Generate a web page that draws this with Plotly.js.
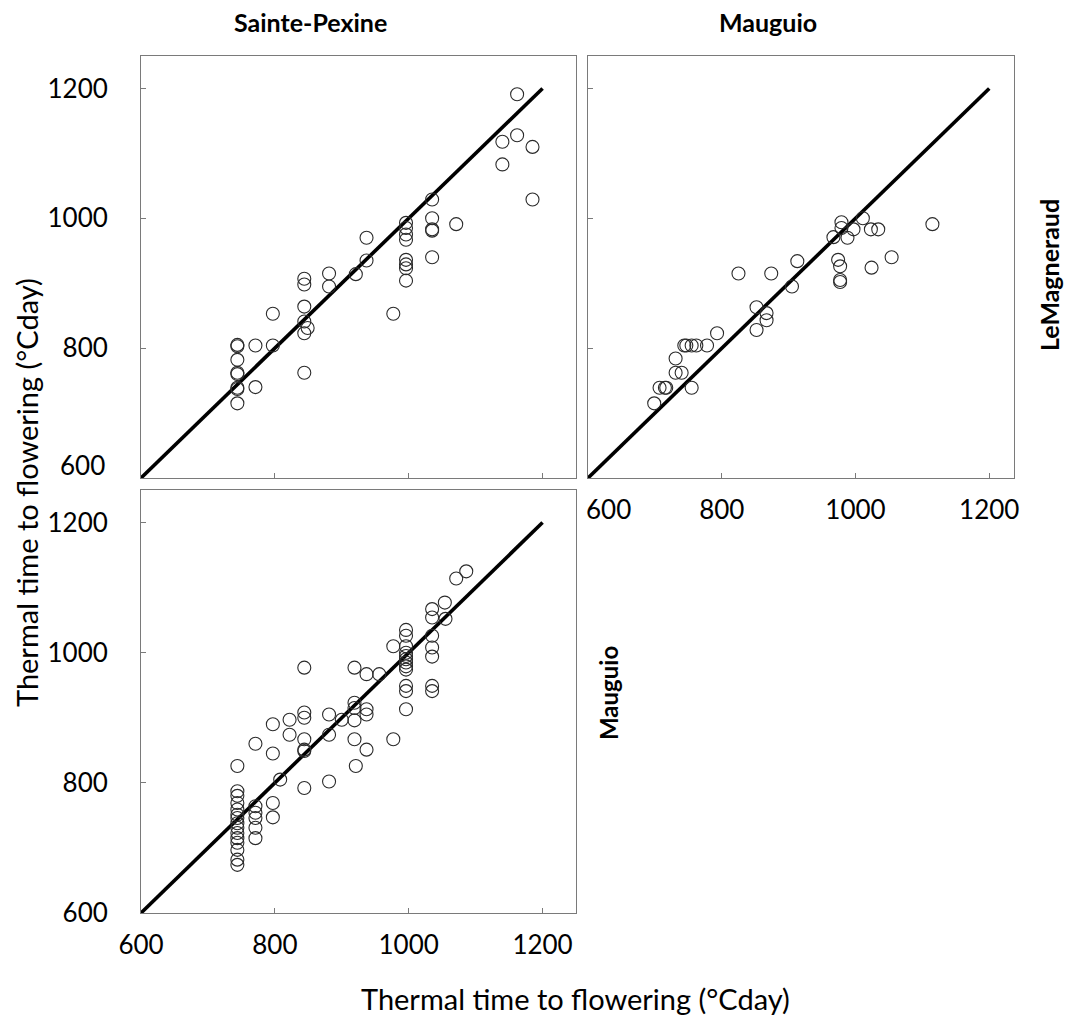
<!DOCTYPE html>
<html><head><meta charset="utf-8">
<script src="https://cdn.plot.ly/plotly-3.0.1.min.js"></script>
<style>body{margin:0;background:#fff}</style></head>
<body><div id="chart" style="width:1069px;height:1029px"></div>
<script>
// 1:1 reference line
const lineX = [600, 1200];
const lineY = [600, 1200];

// Panel: Sainte-Pexine (column) vs LeMagneraud (row)
const spX = [1162,1140,1162,1185,1140,1185,1035,1035,1035,1035,1035,1071,996,996,996,996,996,996,996,996,937,937,921,881,881,977,844,844,844,844,849,844,844,797,797,771,771,744,744,744,744,744,744,744,744];
const spY = [1191,1118,1128,1110,1083,1029,1029,1000,983,981,940,991,993,985,975,967,936,929,923,904,970,935,914,915,895,853,907,898,864,841,831,823,762,853,804,804,740,805,803,782,762,760,739,737,715];

// Panel: Mauguio (column) vs LeMagneraud (row)
const mgX = [1115,1011,979,979,997,1023,1034,967,988,974,977,977,977,1024,1054,913,905,874,825,852,867,867,852,793,778,762,755,747,744,731,731,740,755,707,715,717,699];
const mgY = [991,1000,994,985,983,983,983,971,970,936,926,905,902,924,940,934,895,915,915,863,854,843,828,823,804,804,804,804,804,784,762,762,739,739,739,739,715];

// Panel: Sainte-Pexine (column) vs Mauguio (row)
const smX = [1086,1071,1054,1055,1035,1035,1035,1035,1035,1035,1035,
  996,996,996,996,996,996,996,996,996,996,996,996,
  977,977,956,937,919,937,937,919,919,919,919,921,937,900,881,881,881,
  844,844,844,844,844,844,844,822,822,797,797,771,808,797,797,
  771,771,771,771,771,
  744,744,744,744,744,744,744,744,744,744,744,744,744,744,744];
const smY = [1125,1114,1077,1052,1067,1054,1026,1008,994,949,941,
  1035,1026,1010,1000,995,990,985,979,974,949,941,913,
  1010,867,967,967,977,913,905,923,915,896,867,826,851,897,905,874,802,
  977,908,900,867,851,849,792,897,874,890,845,860,805,769,747,
  764,754,746,731,715,
  826,787,780,769,759,751,746,738,731,723,715,708,697,682,674];

const tickVals = [600, 800, 1000, 1200];
const tickText = ['600', '800', '1000', '1200'];
const tickTextNo600 = ['', '800', '1000', '1200'];
const FONT = 'Lato, "Open Sans", sans-serif';
const TICK_SIZE = 26;

function pts(x, y, xa, ya) {
  return {x: x, y: y, xaxis: xa, yaxis: ya, type: 'scatter', mode: 'markers',
    marker: {symbol: 'circle', size: 13, color: 'rgba(0,0,0,0)', line: {color: '#2a2a2a', width: 1.1}},
    hoverinfo: 'x+y', showlegend: false};
}
function diag(xa, ya) {
  return {x: lineX, y: lineY, xaxis: xa, yaxis: ya, type: 'scatter', mode: 'lines',
    line: {color: '#000', width: 3.6}, hoverinfo: 'skip', showlegend: false};
}

const data = [
  diag('x', 'y'), pts(spX, spY, 'x', 'y'),
  diag('x2', 'y2'), pts(mgX, mgY, 'x2', 'y2'),
  diag('x3', 'y3'), pts(smX, smY, 'x3', 'y3')
];

function ax(domain, range, anchor, showLabels, standoff, labels) {
  return {domain: domain, range: range, anchor: anchor,
    tickmode: 'array', tickvals: tickVals, ticktext: labels || tickText,
    showticklabels: showLabels, ticks: 'inside', ticklen: 5, tickcolor: '#7a7a7a', tickwidth: 1,
    showline: true, mirror: true, linecolor: '#7a7a7a', linewidth: 1,
    showgrid: false, zeroline: false, fixedrange: true,
    ticklabelstandoff: standoff,
    tickfont: {family: FONT, size: TICK_SIZE, color: '#000'}};
}

const W = 1069, H = 1029;
const px = v => v / W;
const py = v => 1 - v / H;

function ann(text, x, y, size, angle, xanchor) {
  return {text: text, x: px(x), y: py(y), xref: 'paper', yref: 'paper', showarrow: false,
    font: {family: FONT, size: size, color: '#000'}, textangle: angle || 0,
    xanchor: xanchor || 'center', yanchor: 'middle'};
}

const layout = {
  width: W, height: H,
  margin: {l: 0, r: 0, t: 0, b: 0},
  paper_bgcolor: '#fff', plot_bgcolor: '#fff',
  showlegend: false,
  xaxis:  ax([px(141), px(576)], [600, 1250], 'y', false, 9),
  yaxis:  ax([py(478), py(56)], [600, 1250], 'x', true, 27, tickTextNo600),
  xaxis2: ax([px(588), px(1014)], [600, 1237], 'y2', true, 9, tickTextNo600),
  yaxis2: ax([py(478), py(56)], [600, 1250], 'x2', false, 27),
  xaxis3: ax([px(141), px(576)], [600, 1250], 'y3', true, 9),
  yaxis3: ax([py(913), py(490)], [600, 1250], 'x3', true, 27),
  annotations: [
    ann('<b>Sainte-Pexine</b>', 310, 22, 25),
    ann('<b>Mauguio</b>', 768, 22, 25),
    ann('<b>LeMagneraud</b>', 1049, 275, 25, -90),
    ann('<b>Mauguio</b>', 608, 693, 24, -90),
    ann('Thermal time to flowering (°Cday)', 27, 493, 29, -90),
    ann('Thermal time to flowering (°Cday)', 575, 998, 29),
    // tick labels nudged off the shared corner, as in the source figure
    ann(tickText[0], 107, 465, TICK_SIZE, 0, 'right'),
    ann(tickText[0], 608, 509, TICK_SIZE, 0, 'center')
  ]
};

Plotly.newPlot('chart', data, layout, {displayModeBar: false, staticPlot: true});
</script></body></html>
